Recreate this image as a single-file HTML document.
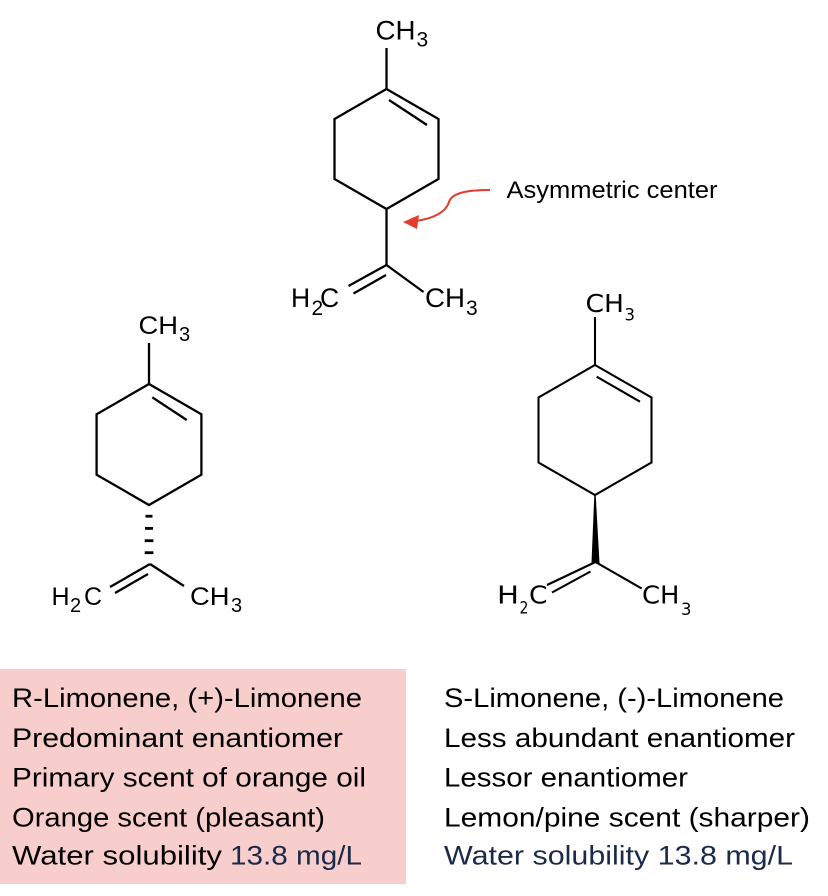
<!DOCTYPE html>
<html>
<head>
<meta charset="utf-8">
<style>
  html, body { margin:0; padding:0; background:#ffffff; }
  body { width:828px; height:896px; overflow:hidden; }
  svg { display:block; }
  .lbl { font-family:"Liberation Sans", Arial, sans-serif; fill:#000; }
  .lbr { font-family:"DejaVu Sans", "Liberation Sans", sans-serif; fill:#000; }
  .txt { font-family:"Liberation Sans", Arial, sans-serif; fill:#000; }
</style>
</head>
<body>
<svg width="828" height="896" viewBox="0 0 828 896" xmlns="http://www.w3.org/2000/svg">
  <rect x="0" y="0" width="828" height="896" fill="#ffffff"/>

  <!-- Pink box -->
  <rect x="0" y="669" width="406" height="215" fill="#f8cecc"/>

  <!-- ===== Top molecule ===== -->
  <g stroke="#000" stroke-width="2.3" fill="none" stroke-linecap="butt" stroke-linejoin="miter">
    <line x1="386.5" y1="48" x2="386.5" y2="89"/>
    <polygon points="386.5,89 438.5,119 438.5,179 386.5,209 334.5,179 334.5,119"/>
    <line x1="389" y1="100" x2="427" y2="125"/>
    <line x1="386.5" y1="209" x2="386.5" y2="265"/>
    <line x1="386.5" y1="265" x2="423.5" y2="292"/>
    <line x1="386.5" y1="265" x2="348.5" y2="286"/>
    <line x1="386" y1="275" x2="353.5" y2="293.5"/>
  </g>
  <text class="lbl" x="375.5" y="39.5" font-size="26.5" textLength="40" lengthAdjust="spacingAndGlyphs">CH</text>
  <text class="lbl" x="416.5" y="46.5" font-size="21">3</text>
  <text class="lbl" x="291" y="307" font-size="26.5">H</text>
  <text class="lbl" x="311.5" y="315" font-size="21">2</text>
  <text class="lbl" x="320" y="307" font-size="26.5">C</text>
  <text class="lbl" x="425" y="307" font-size="26.5" textLength="40" lengthAdjust="spacingAndGlyphs">CH</text>
  <text class="lbl" x="466" y="315" font-size="21">3</text>

  <!-- Red arrow -->
  <path d="M490,190 C470,190 452,192 449,202 C446,212 433,219 415,221" stroke="#e53a2c" stroke-width="2" fill="none"/>
  <polygon points="403,222 419,215 417,229" fill="#e53a2c"/>
  <text class="txt" x="506.5" y="198" font-size="24" textLength="211" lengthAdjust="spacingAndGlyphs">Asymmetric center</text>

  <!-- ===== Left molecule (R) ===== -->
  <g stroke="#000" stroke-width="2.3" fill="none">
    <line x1="149" y1="343" x2="149" y2="384"/>
    <polygon points="149,384 201.4,414.3 201.4,474.7 149,505 96.6,474.7 96.6,414.3"/>
    <line x1="152.3" y1="397.3" x2="186.7" y2="420"/>
    <line x1="150" y1="564" x2="184" y2="586"/>
    <line x1="150" y1="564" x2="110" y2="587"/>
    <line x1="148" y1="574" x2="115" y2="593"/>
  </g>
  <g fill="#000">
    <rect x="145.5" y="514.8" width="7" height="2.8"/>
    <rect x="145" y="527" width="8" height="2.8"/>
    <rect x="144.7" y="539.3" width="8.7" height="2.8"/>
    <rect x="144.7" y="551.3" width="8.7" height="2.8"/>
  </g>
  <text class="lbl" x="138.5" y="334" font-size="25" textLength="39.5" lengthAdjust="spacingAndGlyphs">CH</text>
  <text class="lbl" x="179" y="341" font-size="20">3</text>
  <text class="lbl" x="51.5" y="605" font-size="25">H</text>
  <text class="lbl" x="70" y="612" font-size="20">2</text>
  <text class="lbl" x="84" y="605" font-size="25">C</text>
  <text class="lbl" x="190" y="605" font-size="25" textLength="39.5" lengthAdjust="spacingAndGlyphs">CH</text>
  <text class="lbl" x="231" y="612" font-size="20">3</text>

  <!-- ===== Right molecule (S) ===== -->
  <g stroke="#000" stroke-width="2.1" fill="none">
    <line x1="595" y1="317" x2="595" y2="365"/>
    <polygon points="595,365 651.5,397.5 651.5,462.5 595,495 538.5,462.5 538.5,397.5"/>
    <line x1="596.7" y1="376.7" x2="640" y2="401.7"/>
    <line x1="595.5" y1="562" x2="641.7" y2="588.5"/>
    <line x1="595.5" y1="562" x2="547" y2="585"/>
    <line x1="590.5" y1="571.5" x2="552" y2="592.5"/>
  </g>
  <polygon points="594.3,495 595.7,495 599.5,563 591.5,563" fill="#000"/>
  <text class="lbr" x="585.5" y="312" font-size="25" textLength="38.5" lengthAdjust="spacingAndGlyphs">CH</text>
  <text class="lbr" x="624.5" y="320.7" font-size="17" textLength="10.5" lengthAdjust="spacingAndGlyphs">3</text>
  <text class="lbr" x="497" y="603.5" font-size="25" textLength="22" lengthAdjust="spacingAndGlyphs">H</text>
  <text class="lbr" x="519.5" y="613.3" font-size="17" textLength="9" lengthAdjust="spacingAndGlyphs">2</text>
  <text class="lbr" x="529" y="603.5" font-size="25" textLength="18.5" lengthAdjust="spacingAndGlyphs">C</text>
  <text class="lbr" x="642" y="603.5" font-size="25" textLength="37.5" lengthAdjust="spacingAndGlyphs">CH</text>
  <text class="lbr" x="681" y="615" font-size="17" textLength="10.5" lengthAdjust="spacingAndGlyphs">3</text>

  <!-- ===== Left text block ===== -->
  <g>
    <text class="txt" x="12" y="707" font-size="26.5" textLength="350" lengthAdjust="spacingAndGlyphs">R-Limonene, (+)-Limonene</text>
    <text class="txt" x="12" y="747" font-size="26.5" textLength="331" lengthAdjust="spacingAndGlyphs">Predominant enantiomer</text>
    <text class="txt" x="12" y="786.5" font-size="26.5" textLength="354" lengthAdjust="spacingAndGlyphs">Primary scent of orange oil</text>
    <text class="txt" x="12" y="826.5" font-size="26.5" textLength="313" lengthAdjust="spacingAndGlyphs">Orange scent (pleasant)</text>
    <text class="txt" x="12" y="864.5" font-size="26.5" textLength="210" lengthAdjust="spacingAndGlyphs">Water solubility</text>
    <text class="txt" x="230" y="864.5" font-size="26.5" textLength="132" lengthAdjust="spacingAndGlyphs" style="fill:#1c2a4a">13.8 mg/L</text>
  </g>

  <!-- ===== Right text block ===== -->
  <g>
    <text class="txt" x="444" y="707" font-size="26.5" textLength="340" lengthAdjust="spacingAndGlyphs">S-Limonene, (-)-Limonene</text>
    <text class="txt" x="444" y="747" font-size="26.5" textLength="351" lengthAdjust="spacingAndGlyphs">Less abundant enantiomer</text>
    <text class="txt" x="444" y="786.5" font-size="26.5" textLength="244" lengthAdjust="spacingAndGlyphs">Lessor enantiomer</text>
    <text class="txt" x="444" y="826.5" font-size="26.5" textLength="366" lengthAdjust="spacingAndGlyphs">Lemon/pine scent (sharper)</text>
    <text class="txt" x="444" y="864.5" font-size="26.5" textLength="349" lengthAdjust="spacingAndGlyphs" style="fill:#1c2a4a">Water solubility 13.8 mg/L</text>
  </g>
</svg>
</body>
</html>
